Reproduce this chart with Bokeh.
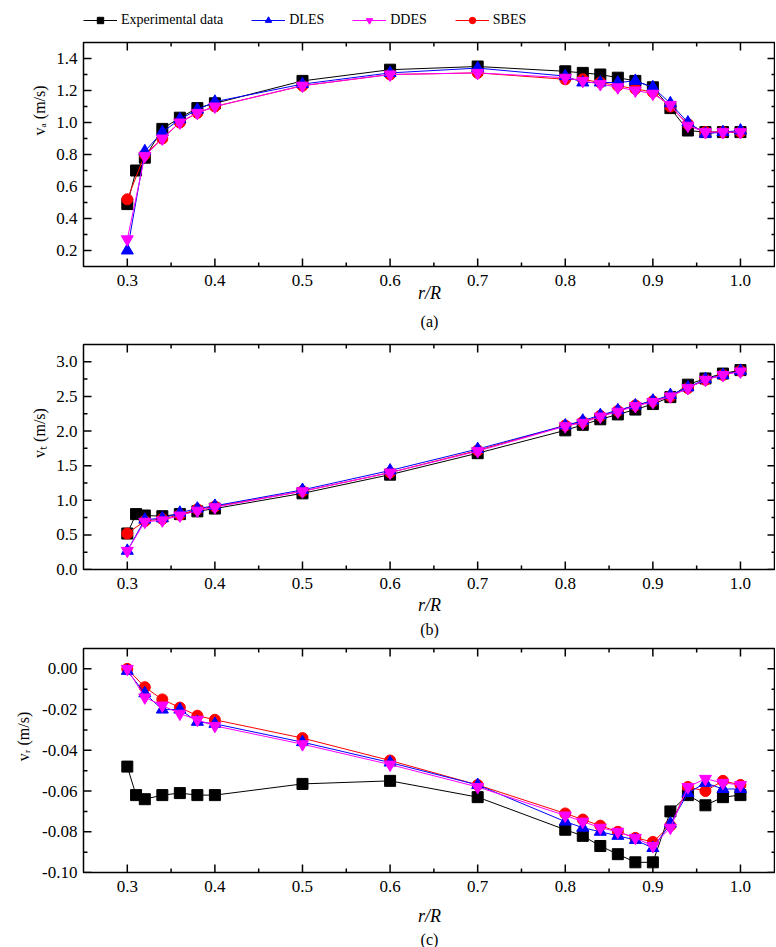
import math
from bokeh.plotting import figure
from bokeh.models import Range1d, FixedTicker, NumeralTickFormatter, Legend, LegendItem, Title
from bokeh.layouts import column
from bokeh.embed import file_html
from bokeh.resources import INLINE

# ---------------- data ----------------
x_exp = [0.30, 0.31, 0.32, 0.34, 0.36, 0.38, 0.40, 0.50, 0.60, 0.70, 0.80,
         0.82, 0.84, 0.86, 0.88, 0.90, 0.92, 0.94, 0.96, 0.98, 1.00]
x_sim = [0.30, 0.32, 0.34, 0.36, 0.38, 0.40, 0.50, 0.60, 0.70, 0.80,
         0.82, 0.84, 0.86, 0.88, 0.90, 0.92, 0.94, 0.96, 0.98, 1.00]

va_exp = [0.49, 0.70, 0.78, 0.96, 1.03, 1.09, 1.12, 1.26, 1.33, 1.35, 1.32,
          1.31, 1.30, 1.28, 1.26, 1.22, 1.09, 0.95, 0.94, 0.94, 0.94]
va_dles = [0.20, 0.82, 0.94, 1.02, 1.08, 1.13, 1.24, 1.31, 1.34, 1.29,
           1.25, 1.25, 1.25, 1.26, 1.22, 1.12, 1.00, 0.93, 0.94, 0.95]
va_ddes = [0.27, 0.79, 0.90, 1.00, 1.06, 1.10, 1.23, 1.30, 1.31, 1.28,
           1.26, 1.24, 1.22, 1.20, 1.18, 1.11, 0.98, 0.94, 0.94, 0.94]
va_sbes = [0.52, 0.80, 0.90, 1.00, 1.06, 1.10, 1.23, 1.30, 1.31, 1.27,
           1.27, 1.25, 1.23, 1.21, 1.19, 1.10, 0.99, 0.94, 0.94, 0.94]

vt_exp = [0.52, 0.80, 0.78, 0.77, 0.80, 0.84, 0.88, 1.10, 1.37, 1.68, 2.01,
          2.09, 2.17, 2.24, 2.31, 2.39, 2.49, 2.67, 2.76, 2.83, 2.88]
vt_dles = [0.27, 0.72, 0.74, 0.82, 0.88, 0.92, 1.15, 1.43, 1.74, 2.08,
           2.15, 2.23, 2.30, 2.37, 2.44, 2.52, 2.63, 2.75, 2.81, 2.87]
vt_ddes = [0.27, 0.69, 0.71, 0.78, 0.85, 0.90, 1.13, 1.40, 1.71, 2.07,
           2.12, 2.21, 2.28, 2.36, 2.42, 2.50, 2.62, 2.74, 2.81, 2.86]
vt_sbes = [0.52, 0.70, 0.73, 0.79, 0.87, 0.91, 1.13, 1.40, 1.72, 2.08,
           2.13, 2.22, 2.29, 2.37, 2.43, 2.50, 2.62, 2.74, 2.81, 2.87]

vr_exp = [-0.048, -0.062, -0.064, -0.062, -0.061, -0.062, -0.062, -0.0565, -0.055, -0.063, -0.079,
          -0.082, -0.087, -0.091, -0.095, -0.095, -0.070, -0.062, -0.067, -0.063, -0.062]
vr_dles = [-0.001, -0.012, -0.020, -0.020, -0.026, -0.027, -0.036, -0.046, -0.057, -0.075,
           -0.078, -0.080, -0.082, -0.084, -0.088, -0.076, -0.061, -0.056, -0.059, -0.059]
vr_ddes = [0.000, -0.014, -0.018, -0.022, -0.025, -0.028, -0.037, -0.047, -0.058, -0.072,
           -0.075, -0.078, -0.080, -0.083, -0.087, -0.078, -0.058, -0.054, -0.056, -0.057]
vr_sbes = [0.000, -0.009, -0.015, -0.019, -0.023, -0.025, -0.034, -0.045, -0.057, -0.071,
           -0.074, -0.077, -0.080, -0.083, -0.085, -0.077, -0.058, -0.060, -0.055, -0.057]

x_ticks = [0.3, 0.4, 0.5, 0.6, 0.7, 0.8, 0.9, 1.0]
x_minor = [0.35, 0.45, 0.55, 0.65, 0.75, 0.85, 0.95]

series_names = ["Experimental data", "DLES", "DDES", "SBES"]
series_colors = ["#000000", "#0000FF", "#FF00FF", "#FF0000"]
series_markers = ["square", "triangle", "inverted_triangle", "circle"]
series_sizes = [11, 12, 12, 11]

FONT = "Liberation Serif"
FRAME_W = 692
LEFT = 83
X0, X1 = 0.25, 1.04
EM = "\u2003"
EN = "\u2002"


def add_ticks(p, xs, yr, length, yvals):
    # inward ticks on all four sides, at the tick values
    kw = dict(length=length, length_units="screen", line_color="black", line_width=1.5)
    p.ray(x=xs, y=[yr[0]] * len(xs), angle=math.pi / 2, **kw)
    p.ray(x=xs, y=[yr[1]] * len(xs), angle=-math.pi / 2, **kw)
    p.ray(x=[X0] * len(yvals), y=yvals, angle=0, **kw)
    p.ray(x=[X1] * len(yvals), y=yvals, angle=math.pi, **kw)


def make_panel(yset, yr, yticks, yminor, yfmt, frame_h, top, bottom,
               ylabel, ylab_stand, xlab_stand, letter, letter_stand):
    p = figure(frame_width=FRAME_W, frame_height=frame_h,
               x_range=Range1d(X0, X1), y_range=Range1d(*yr),
               output_backend="svg", toolbar_location=None,
               min_border_left=LEFT, min_border_right=0,
               min_border_top=top, min_border_bottom=bottom)
    p.grid.visible = False
    p.outline_line_color = "black"
    p.outline_line_width = 1.5

    xa = p.xaxis[0]
    xa.ticker = FixedTicker(ticks=x_ticks, minor_ticks=[])
    xa.formatter = NumeralTickFormatter(format="0.0")
    ya = p.yaxis[0]
    ya.ticker = FixedTicker(ticks=yticks, minor_ticks=[])
    ya.formatter = NumeralTickFormatter(format=yfmt)
    for ax in (xa, ya):
        ax.axis_line_color = None
        ax.major_tick_line_color = None
        ax.minor_tick_line_color = None
        ax.major_tick_in = 0
        ax.major_tick_out = 0
        ax.major_label_text_font = FONT
        ax.major_label_text_font_size = "17px"
        ax.major_label_text_color = "black"
    xa.major_label_standoff = 8
    ya.major_label_standoff = 6

    xa.axis_label = "r/R"
    xa.axis_label_text_font = FONT
    xa.axis_label_text_font_style = "italic"
    xa.axis_label_text_font_size = "18px"
    xa.axis_label_text_color = "black"
    xa.axis_label_standoff = xlab_stand

    p.add_layout(Title(text=letter, align="center", text_font=FONT, text_font_size="16px",
                       text_font_style="normal", text_color="black", standoff=letter_stand), "below")
    p.add_layout(Title(text=ylabel, align="center", text_font=FONT,
                       text_font_size="16px", text_font_style="normal", text_color="black",
                       standoff=ylab_stand), "left")

    add_ticks(p, x_ticks, yr, 8, yticks)
    add_ticks(p, x_minor, yr, 4, yminor)

    # draw order: experiment, SBES, DLES, DDES
    for idx in [0, 3, 1, 2]:
        xs = x_exp if idx == 0 else x_sim
        yv = yset[idx]
        p.line(xs, yv, line_color=series_colors[idx], line_width=1)
        p.scatter(xs, yv, marker=series_markers[idx], size=series_sizes[idx],
                  fill_color=series_colors[idx], line_color=series_colors[idx])
    return p


# legend strip on top: its own small figure whose ranges keep the proxy series out of view
p0 = figure(frame_width=FRAME_W, frame_height=22, x_range=Range1d(5, 6), y_range=Range1d(5, 6),
            output_backend="svg", toolbar_location=None,
            x_axis_location=None, y_axis_location=None,
            min_border_left=LEFT, min_border_right=0, min_border_top=12, min_border_bottom=0)
p0.grid.visible = False
p0.outline_line_color = None
proxy_y = [va_exp, va_dles, va_ddes, va_sbes]
items = []
for i in range(4):
    xs = x_exp if i == 0 else x_sim
    lr = p0.line(xs, proxy_y[i], line_color=series_colors[i], line_width=1)
    sr = p0.scatter(xs, proxy_y[i], marker=series_markers[i], size=series_sizes[i],
                    fill_color=series_colors[i], line_color=series_colors[i])
    items.append(LegendItem(label=series_names[i], renderers=[lr, sr]))
lg = Legend(items=items, orientation="horizontal", location="top_left",
            glyph_width=34, glyph_height=16, label_text_font=FONT, label_text_color="black",
            label_text_font_size="14px", spacing=28, label_standoff=4,
            padding=0, margin=0, border_line_alpha=0, background_fill_alpha=0)
p0.add_layout(lg)

# y titles are centred on the frame; leading wide spaces lift the visible text
p1 = make_panel((va_exp, va_dles, va_ddes, va_sbes), (0.1, 1.5),
                [0.2, 0.4, 0.6, 0.8, 1.0, 1.2, 1.4], [0.3, 0.5, 0.7, 0.9, 1.1, 1.3], "0.0",
                224, 8, 67, EM * 5 + EN + "vₐ (m/s)", 12, -6, "(a)", 10)
p2 = make_panel((vt_exp, vt_dles, vt_ddes, vt_sbes), (0.0, 3.25),
                [0.0, 0.5, 1.0, 1.5, 2.0, 2.5, 3.0], [0.25, 0.75, 1.25, 1.75, 2.25, 2.75], "0.0",
                225, 10, 68, EM * 3 + "vₜ (m/s)", 12, 3, "(b)", 2)
p3 = make_panel((vr_exp, vr_dles, vr_ddes, vr_sbes), (-0.10, 0.01),
                [-0.10, -0.08, -0.06, -0.04, -0.02, 0.0], [-0.09, -0.07, -0.05, -0.03, -0.01], "0.00",
                224, 10, 75, EM * 3 + "vᵣ (m/s)", 16, 11, "(c)", 0)

layout = column(p0, p1, p2, p3, spacing=0)
open("out.html", "w").write(file_html(layout, INLINE))
